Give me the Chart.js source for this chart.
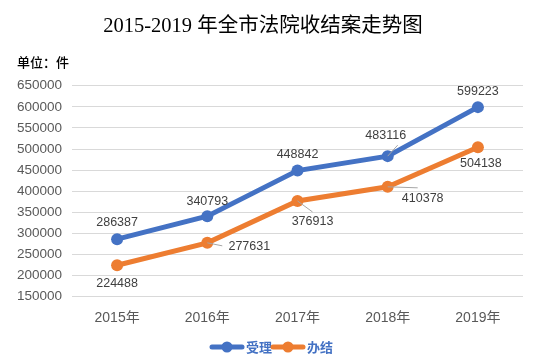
<!DOCTYPE html>
<html>
<head>
<meta charset="utf-8">
<script src="https://cdn.jsdelivr.net/npm/chart.js@4/dist/chart.umd.min.js"></script>
<style>
  html, body { margin: 0; padding: 0; background: #fff; }
  #wrap { width: 541px; height: 364px; }
</style>
</head>
<body>
<div id="wrap"><canvas id="c" width="541" height="364"></canvas></div>
<script>
// data
const years = ['2015年', '2016年', '2017年', '2018年', '2019年'];
const accepted = [286387, 340793, 448842, 483116, 599223];   // 受理
const closed = [224488, 277631, 376913, 410378, 504138];     // 办结
const yTicks = [150000, 200000, 250000, 300000, 350000, 400000, 450000, 500000, 550000, 600000, 650000];

// label placement relative to the point: [dx, dy, leader line end or null]
const acceptedLabelPos = [[0, -17], [0, -15], [0, -16], [-2, -21, [10, -11]], [0, -16]];
const closedLabelPos = [[0, 18], [42, 4, [15, 3]], [15, 21, [15, 11]], [35, 12, [30, 1]], [3, 16]];

const BLUE = '#4472C4';
const ORANGE = '#ED7D31';

const extras = {
    id: 'extras',
    afterDatasetsDraw(chart) {
        const ctx = chart.ctx;
        const positions = [acceptedLabelPos, closedLabelPos];
        ctx.save();
        chart.data.datasets.forEach((ds, i) => {
            const meta = chart.getDatasetMeta(i);
            meta.data.forEach((pt, j) => {
                const pos = positions[i][j];
                if (pos[2]) {
                    ctx.strokeStyle = '#A6A6A6';
                    ctx.lineWidth = 1;
                    ctx.beginPath();
                    ctx.moveTo(pt.x, pt.y);
                    ctx.lineTo(pt.x + pos[2][0], pt.y + pos[2][1]);
                    ctx.stroke();
                }
                ctx.fillStyle = '#404040';
                ctx.font = '12.5px "Liberation Sans", Arial, sans-serif';
                ctx.textAlign = 'center';
                ctx.textBaseline = 'middle';
                ctx.fillText(String(ds.data[j]), pt.x + pos[0], pt.y + pos[1]);
            });
        });
        ctx.restore();
    },
    afterDraw(chart) {
        const ctx = chart.ctx;
        ctx.save();
        // title
        ctx.fillStyle = '#000';
        ctx.textBaseline = 'middle';
        ctx.textAlign = 'center';
        ctx.font = '20.5px "Liberation Serif", "Noto Sans CJK SC", serif';
        ctx.fillText('2015-2019 年全市法院收结案走势图', 263, 27);
        // unit
        ctx.textAlign = 'left';
        ctx.font = '500 13px "Noto Sans CJK SC", sans-serif';
        ctx.fillText('单位：件', 17, 62);
        // legend
        const items = [[BLUE, '受理', 212], [ORANGE, '办结', 273]];
        items.forEach(([color, text, x]) => {
            const y = 347;
            ctx.strokeStyle = color;
            ctx.lineWidth = 5;
            ctx.lineCap = 'round';
            ctx.beginPath();
            ctx.moveTo(x, y);
            ctx.lineTo(x + 30, y);
            ctx.stroke();
            ctx.fillStyle = color;
            ctx.beginPath();
            ctx.arc(x + 15, y, 5.5, 0, Math.PI * 2);
            ctx.fill();
            ctx.fillStyle = BLUE;
            ctx.font = 'bold 13px "Noto Sans CJK SC", sans-serif';
            ctx.textAlign = 'left';
            ctx.fillText(text, x + 34, y);
        });
        ctx.restore();
    }
};

new Chart(document.getElementById('c'), {
    type: 'line',
    data: {
        labels: years,
        datasets: [
            {
                label: '受理',
                data: accepted,
                borderColor: BLUE,
                backgroundColor: BLUE,
                borderWidth: 5,
                pointRadius: 6,
                pointHoverRadius: 6,
                pointBorderWidth: 0,
                tension: 0
            },
            {
                label: '办结',
                data: closed,
                borderColor: ORANGE,
                backgroundColor: ORANGE,
                borderWidth: 5,
                pointRadius: 6,
                pointHoverRadius: 6,
                pointBorderWidth: 0,
                tension: 0
            }
        ]
    },
    options: {
        responsive: false,
        animation: false,
        layout: { padding: { top: 85.7, right: 18, bottom: 37.3, left: 0 } },
        plugins: {
            legend: { display: false },
            title: { display: false },
            tooltip: { enabled: false }
        },
        scales: {
            x: {
                offset: true,
                grid: { display: false, drawTicks: false },
                border: { display: false },
                ticks: {
                    color: '#595959',
                    padding: 13,
                    font: { size: 14, family: '"Liberation Sans", "Noto Sans CJK SC", sans-serif' }
                },
                afterFit(scale) { scale.height = 30; }
            },
            y: {
                min: yTicks[0],
                max: yTicks[yTicks.length - 1],
                afterBuildTicks(scale) { scale.ticks = yTicks.map(v => ({ value: v })); },
                grid: { color: '#D9D9D9', lineWidth: 1, drawTicks: false },
                border: { display: false },
                ticks: {
                    color: '#595959',
                    padding: 10,
                    callback: v => String(v),
                    font: { size: 13.5, family: '"Liberation Sans", Arial, sans-serif' }
                },
                afterFit(scale) { scale.width = 72; }
            }
        }
    },
    plugins: [extras]
});
</script>
</body>
</html>
